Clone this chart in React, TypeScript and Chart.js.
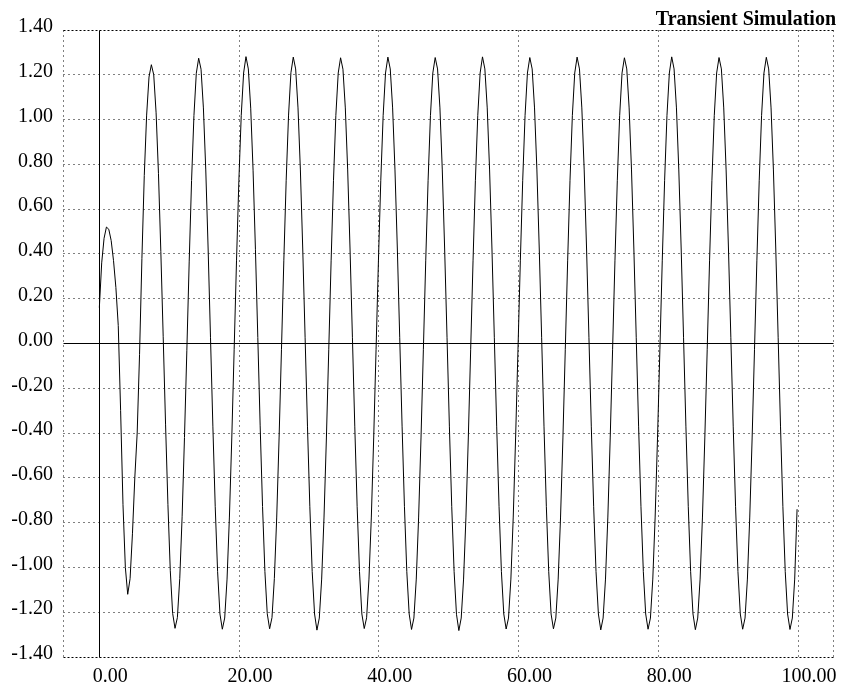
import React, { useEffect, useRef } from "react";
import { Chart, registerables } from "chart.js";

Chart.register(...registerables);

const TITLE = "Transient Simulation";
const FONT_FAMILY = "'Liberation Serif', 'Times New Roman', serif";

// time between simulation samples (same units as the x axis)
const SAMPLE_STEP = 0.3385;

const X_MIN = -5.2;
const X_MAX = 105;
const X_TICKS = [0, 20, 40, 60, 80, 100];
const Y_MIN = -1.4;
const Y_MAX = 1.4;
const Y_STEP = 0.2;

// start-up transient (first ~7.1 time units)
const STARTUP_VOLTS = [
  0.16, 0.36, 0.47, 0.52, 0.51, 0.46, 0.37, 0.25, 0.08, -0.3, -0.72, -1.0, -1.12, -1.05, -0.85, -0.6, -0.4, -0.05,
  0.38, 0.75, 1.02, 1.19,
];

// steady oscillation, one row per period (each row starts at a crest)
const STEADY_VOLTS = [
  1.245, 1.2, 1.03, 0.76, 0.41, 0.03, -0.36, -0.72, -1.015, -1.205, -1.272, -1.224, -1.05, -0.774, -0.42, -0.03, 0.368, 0.728, 1.018, 1.207,
  1.274, 1.225, 1.052, 0.775, 0.422, 0.028, -0.369, -0.729, -1.019, -1.208, -1.276, -1.226, -1.052, -0.775, -0.422, -0.028, 0.369, 0.729, 1.019, 1.208,
  1.281, 1.226, 1.051, 0.774, 0.421, 0.027, -0.368, -0.728, -1.018, -1.207, -1.274, -1.224, -1.05, -0.775, -0.422, -0.028, 0.369, 0.729, 1.02, 1.209,
  1.279, 1.226, 1.052, 0.775, 0.422, 0.028, -0.369, -0.729, -1.019, -1.208, -1.28, -1.226, -1.052, -0.775, -0.422, -0.028, 0.369, 0.729, 1.019, 1.208,
  1.276, 1.225, 1.052, 0.775, 0.422, 0.028, -0.369, -0.729, -1.019, -1.208, -1.273, -1.225, -1.052, -0.775, -0.422, -0.028, 0.369, 0.729, 1.019, 1.208,
  1.279, 1.226, 1.052, 0.775, 0.422, 0.028, -0.369, -0.729, -1.019, -1.208, -1.277, -1.226, -1.052, -0.775, -0.422, -0.028, 0.369, 0.729, 1.019, 1.208,
  1.277, 1.226, 1.052, 0.775, 0.422, 0.028, -0.369, -0.729, -1.019, -1.209, -1.282, -1.226, -1.052, -0.775, -0.422, -0.028, 0.369, 0.729, 1.019, 1.208,
  1.28, 1.226, 1.052, 0.775, 0.422, 0.028, -0.369, -0.729, -1.019, -1.208, -1.275, -1.226, -1.052, -0.775, -0.422, -0.028, 0.369, 0.729, 1.019, 1.208,
  1.277, 1.226, 1.052, 0.775, 0.422, 0.028, -0.369, -0.729, -1.019, -1.208, -1.274, -1.226, -1.052, -0.775, -0.422, -0.028, 0.369, 0.729, 1.019, 1.208,
  1.279, 1.226, 1.052, 0.775, 0.422, 0.028, -0.369, -0.729, -1.019, -1.208, -1.279, -1.226, -1.052, -0.775, -0.422, -0.028, 0.369, 0.729, 1.019, 1.208,
  1.276, 1.226, 1.052, 0.775, 0.422, 0.028, -0.369, -0.729, -1.019, -1.208, -1.276, -1.226, -1.052, -0.775, -0.422, -0.028, 0.369, 0.729, 1.019, 1.208,
  1.28, 1.226, 1.052, 0.775, 0.422, 0.028, -0.369, -0.729, -1.019, -1.208, -1.278, -1.226, -1.052, -0.775, -0.422, -0.028, 0.369, 0.729, 1.019, 1.208,
  1.277, 1.226, 1.052, 0.775, 0.422, 0.028, -0.369, -0.729, -1.019, -1.208, -1.276, -1.226, -1.052, -0.775, -0.422, -0.028, 0.369, 0.729, 1.019, 1.208,
  1.278, 1.226, 1.052, 0.775, 0.422, 0.028, -0.369, -0.729, -1.019, -1.208, -1.277, -1.226, -1.052, -0.74,
];

const VOLTS = [...STARTUP_VOLTS, ...STEADY_VOLTS];

const fmt = (v: number) => (Math.abs(v) < 1e-9 ? 0 : v).toFixed(2);

const gridPlugin = {
  id: "dottedGrid",
  beforeDatasetsDraw(chart: any) {
    const { ctx, chartArea: a, scales } = chart;
    const xs = scales.x;
    const ys = scales.y;
    const snap = (v: number) => Math.floor(v) + 0.5;
    const line = (x1: number, y1: number, x2: number, y2: number, dash: number[]) => {
      ctx.setLineDash(dash);
      ctx.beginPath();
      ctx.moveTo(x1, y1);
      ctx.lineTo(x2, y2);
      ctx.stroke();
    };
    ctx.save();
    ctx.lineWidth = 1;
    ctx.strokeStyle = "#000";
    const left = snap(a.left);
    const right = snap(a.right);
    const top = snap(a.top);
    const bottom = snap(a.bottom);
    ys.ticks.forEach((t: any) => {
      const py = snap(ys.getPixelForValue(t.value));
      const isEdge = Math.abs(t.value - Y_MIN) < 1e-6 || Math.abs(t.value - Y_MAX) < 1e-6;
      if (Math.abs(t.value) < 1e-9) return;
      line(left, py, right, py, isEdge ? [2, 2] : [1, 4]);
    });
    line(left, top, left, bottom, [1, 4]);
    line(right, top, right, bottom, [1, 4]);
    xs.ticks.forEach((t: any) => {
      if (Math.abs(t.value) < 1e-9) return;
      const px = snap(xs.getPixelForValue(t.value));
      line(px, top, px, bottom, [1, 4]);
    });
    const y0 = snap(ys.getPixelForValue(0));
    const x0 = snap(xs.getPixelForValue(0));
    line(left, y0, right, y0, []);
    line(x0, top, x0, bottom, []);
    ctx.restore();
  },
};

export default function App() {
  const canvasRef = useRef<HTMLCanvasElement | null>(null);

  useEffect(() => {
    document.body.style.margin = "0";
    const canvas = canvasRef.current;
    if (!canvas) return;
    const points = VOLTS.map((v, i) => ({ x: i * SAMPLE_STEP, y: v }));
    const chart = new Chart(canvas, {
      type: "line",
      data: {
        datasets: [
          {
            label: "V",
            data: points,
            borderColor: "#000",
            borderWidth: 1,
            pointRadius: 0,
            tension: 0,
            fill: false,
          },
        ],
      },
      plugins: [gridPlugin],
      options: {
        animation: false,
        responsive: false,
        devicePixelRatio: 1,
        layout: { padding: { left: 0, right: 5, top: 0, bottom: 0 } },
        plugins: {
          legend: { display: false },
          tooltip: { enabled: false },
          title: {
            display: true,
            text: TITLE,
            align: "end",
            color: "#000",
            font: { family: FONT_FAMILY, size: 20, weight: "bold", lineHeight: 1 },
            padding: { top: 10, bottom: 0 },
          },
        },
        scales: {
          x: {
            type: "linear",
            min: X_MIN,
            max: X_MAX,
            afterBuildTicks: (scale: any) => {
              scale.ticks = X_TICKS.map((v) => ({ value: v }));
            },
            afterFit: (scale: any) => {
              scale.height = 30;
            },
            grid: { display: false, drawTicks: false },
            border: { display: false },
            ticks: {
              autoSkip: false,
              maxRotation: 0,
              padding: 8,
              labelOffset: 11,
              color: "#000",
              font: { family: FONT_FAMILY, size: 20 },
              callback: (v: any) => fmt(Number(v)),
            },
          },
          y: {
            type: "linear",
            min: Y_MIN,
            max: Y_MAX,
            afterFit: (scale: any) => {
              scale.width = 63;
            },
            grid: { display: false, drawTicks: false },
            border: { display: false },
            ticks: {
              stepSize: Y_STEP,
              autoSkip: false,
              padding: 10,
              labelOffset: -3,
              color: "#000",
              font: { family: FONT_FAMILY, size: 20 },
              callback: (v: any) => fmt(Number(v)),
            },
          },
          yRight: {
            type: "linear",
            position: "right",
            min: Y_MIN,
            max: Y_MAX,
            afterFit: (scale: any) => {
              scale.width = 3;
            },
            grid: { display: false, drawTicks: false },
            border: { display: false },
            ticks: { display: false },
          },
        },
      },
    });
    return () => chart.destroy();
  }, []);

  return (
    <div style={{ width: 841, height: 687 }}>
      <canvas ref={canvasRef} width={841} height={687} style={{ display: "block" }} />
    </div>
  );
}
